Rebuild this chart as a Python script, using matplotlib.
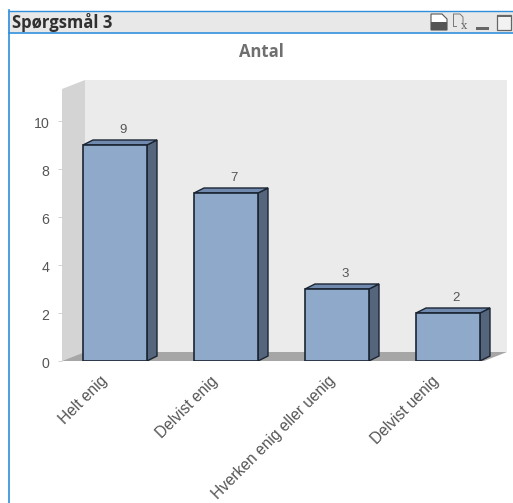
import matplotlib
matplotlib.use("Agg")
import matplotlib.pyplot as plt
from matplotlib.patches import Polygon, Rectangle
from matplotlib.transforms import ScaledTranslation

categories = ["Helt enig", "Delvist enig", "Hverken enig eller uenig", "Delvist uenig"]
values = [9, 7, 3, 2]
yticks = [0, 2, 4, 6, 8, 10]

W, H = 513, 503
fig = plt.figure(figsize=(W / 100, H / 100), dpi=100, facecolor="white")

# window chrome, in pixel coordinates
bg = fig.add_axes([0, 0, 1, 1])
bg.set_xlim(0, W)
bg.set_ylim(H, 0)
bg.axis("off")
BLUE = "#2f8fdc"
GREY = "#555555"
bg.add_patch(Rectangle((8, 10.5), 510, 21.5, fc="#e8e8e8", ec="none"))
bg.plot([8.5, 513], [10.5, 10.5], color=BLUE, lw=1)
bg.plot([8.5, 513], [32.5, 32.5], color=BLUE, lw=1.2)
bg.plot([8.5, 8.5], [10, 503], color=BLUE, lw=1.2)
bg.text(11.5, 22.5, "Spørgsmål 3", fontsize=12, fontweight="bold", family="Open Sans",
        color="#303030", va="center", ha="left")
bg.text(261, 51.5, "Antal", fontsize=12, fontweight="bold", family="Open Sans",
        color="#6f6f6f", va="center", ha="center")
# title-bar icons
bg.add_patch(Polygon([(431, 14), (442, 14), (447, 19), (447, 30), (431, 30)], fc="white", ec="#555555", lw=0.8))
bg.add_patch(Rectangle((431, 22), 16, 8, fc="#555555", ec="none"))
bg.add_patch(Polygon([(453, 14), (460, 14), (463, 17), (463, 23)], fc="none", ec="#777777", lw=0.7, closed=False))
bg.plot([453, 453, 456], [14, 26, 26], color="#777777", lw=0.7)
bg.text(464, 26, "x", fontsize=8, family="DejaVu Serif", color="#666666", ha="center", va="center")
bg.add_patch(Rectangle((476, 27), 13, 3, fc="#666666", ec="none"))
bg.add_patch(Rectangle((496.5, 15), 14, 15, fc="#f2f2f2", ec="#666666", lw=0.9))
bg.add_patch(Rectangle((496.5, 15), 14, 2, fc="#666666", ec="none"))

# chart area: 111 px per category, 24 px per unit
LEFT, RIGHT, TOP, BOTTOM = 62, 507, 80, 361
ax = fig.add_axes([LEFT / W, 1 - BOTTOM / H, (RIGHT - LEFT) / W, (BOTTOM - TOP) / H])
ppx, ppy = 111.0, 24.0
x0 = (115 - LEFT) / ppx
ax.set_xlim(-x0, (RIGHT - LEFT) / ppx - x0)
ax.set_ylim(0, (BOTTOM - TOP) / ppy)
ax.patch.set_alpha(0)
xl, xr = ax.get_xlim()
yt = ax.get_ylim()[1]
dx, dy = 10 / ppx, 5 / ppy
wx, wy = 23 / ppx, 9 / ppy

ax.add_patch(Polygon([(xl, 0), (xl + wx, wy), (xr, wy), (xr, yt), (xl + wx, yt)], fc="#ebebeb", ec="none", zorder=1))
ax.add_patch(Polygon([(xl, 0), (xl + wx, wy), (xl + wx, yt), (xl, yt - wy)], fc="#d4d4d4", ec="none", zorder=1.1))
ax.add_patch(Polygon([(xl, 0), (xl + wx, wy), (xr, wy), (xr - wx, 0)], fc="#a6a6a6", ec="none", zorder=1.2))

bw = 64 / ppx
EDGE = "#1b2533"
for i, v in enumerate(categories):
    val = values[i]
    l, r = i - bw / 2, i + bw / 2
    ax.add_patch(Polygon([(r, 0), (r + dx, dy), (r + dx, val + dy), (r, val)], fc="#54657c", ec=EDGE, lw=1, zorder=3))
    ax.add_patch(Polygon([(l, val), (l + dx, val + dy), (r + dx, val + dy), (r, val)], fc="#6f8aae", ec=EDGE, lw=1, zorder=3))
ax.bar(range(len(values)), values, width=bw, color="#8ea9c9", edgecolor=EDGE, linewidth=1.2, zorder=4)
for i, val in enumerate(values):
    ax.annotate(str(val), (i + dx * 0.85, val + dy), xytext=(0, 3), textcoords="offset points",
                ha="center", va="bottom", fontsize=9.5, family="Liberation Sans", color=GREY, zorder=5)

for s in ax.spines.values():
    s.set_visible(False)
ax.set_yticks(yticks)
ax.tick_params(axis="y", length=3, width=0.6, color="#cccccc", labelsize=10.2, labelcolor=GREY, pad=6)
ax.set_xticks(range(len(categories)))
ax.set_xticklabels(categories, rotation=45, ha="right", rotation_mode="anchor",
                   fontsize=11.2, color=GREY, family="Liberation Sans")
ax.tick_params(axis="x", length=0, pad=9)
for t in ax.get_yticklabels():
    t.set_family("Liberation Sans")
    t.set_transform(t.get_transform() + ScaledTranslation(0, -1.5 / 100, fig.dpi_scale_trans))
label_shift_px = [-15, -16, -9, -17]
for t, s in zip(ax.get_xticklabels(), label_shift_px):
    t.set_transform(t.get_transform() + ScaledTranslation(s / 100, 0, fig.dpi_scale_trans))

fig.savefig("out.png", dpi=100)
